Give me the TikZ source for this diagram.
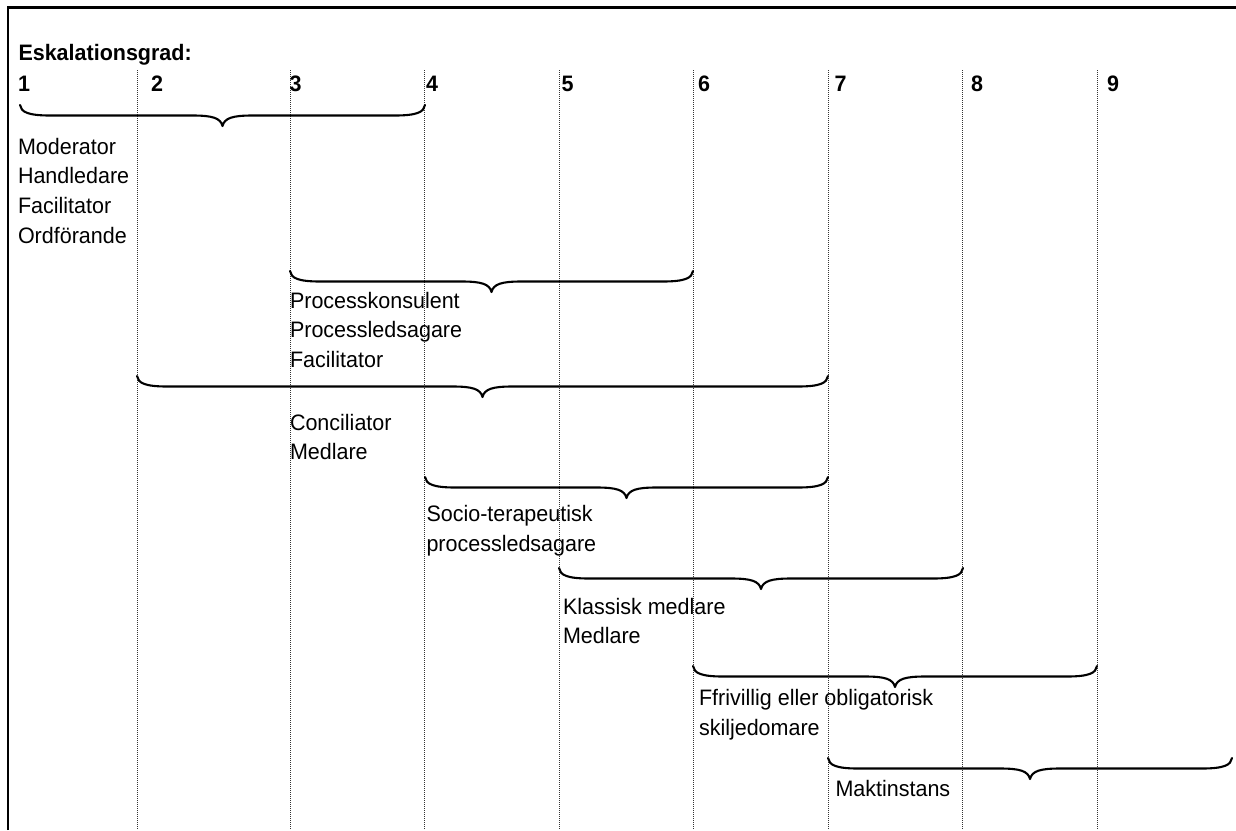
\documentclass[tikz,border=0pt]{standalone}
\usepackage{fontspec}
\setmainfont{Liberation Sans}
\tikzset{
  frameline/.style={line width=2.4pt, black},
  gridline/.style={line width=0.9pt, black!80, dash pattern=on 1pt off 1pt},
  brc/.style={line width=2.1pt, black, line cap=round, line join=round},
  lbl/.style={inner sep=0pt, outer sep=0pt, anchor=base west, font=\fontsize{21.5}{28.7}\selectfont},
  hdr/.style={lbl, font=\bfseries\fontsize{21.5}{28.7}\selectfont},
}
\newcommand\wordbrace[3]{%
  \pgfmathsetmacro\bw{#2-#1}\pgfmathsetmacro\bh{\bw/2}%
  \begin{scope}[shift={(#1,#3)}]
    \draw[brc] (0,0) .. controls (1,7) and (8,10.5) .. (30,10.5)
      -- (\bh-30,10.5) .. controls (\bh-10,10.5) and (\bh-2,13) .. (\bh,21)
      .. controls (\bh+2,13) and (\bh+10,10.5) .. (\bh+30,10.5)
      -- (\bw-30,10.5) .. controls (\bw-8,10.5) and (\bw-1,7) .. (\bw,0);
  \end{scope}}
\newcommand\grp[1]{\scalebox{1}[1.04]{\begin{tabular}[t]{@{}l@{}}#1\end{tabular}}}
\newcommand\one[1]{\scalebox{1}[1.04]{#1}}
\begin{document}
\begin{tikzpicture}[x=1pt,y=-1pt]
\useasboundingbox (0,0) rectangle (1236,830);
% frame
\draw[frameline] (8,830) -- (8,7.3) -- (1236,7.3);
% dotted grid lines
\foreach \gx in {137,290,424.5,559,693,828,962.5,1097}
  \draw[gridline] (\gx,70) -- (\gx,830);
% heading and numbers
\node[hdr] (head) at (18.5,60.7) {\one{Eskalationsgrad:}};
\node[hdr] (n1) at (18,91.7) {\one{1}};
\node[hdr] (n2) at (151,91.7) {\one{2}};
\node[hdr] (n3) at (289.5,91.7) {\one{3}};
\node[hdr] (n4) at (426,91.7) {\one{4}};
\node[hdr] (n5) at (561.5,91.7) {\one{5}};
\node[hdr] (n6) at (698,91.7) {\one{6}};
\node[hdr] (n7) at (834.5,91.7) {\one{7}};
\node[hdr] (n8) at (971,91.7) {\one{8}};
\node[hdr] (n9) at (1107,91.7) {\one{9}};
% braces
\wordbrace{20}{425}{105}
\wordbrace{290}{693}{271}
\wordbrace{137}{828}{376}
\wordbrace{425}{828}{477}
\wordbrace{559}{963}{568}
\wordbrace{693}{1097}{666}
\wordbrace{828}{1232}{758}
% labels
\node[lbl] (g1) at (18,154) {\grp{Moderator\\Handledare\\Facilitator\\Ordförande}};
\node[lbl] (g2) at (290,308) {\grp{Processkonsulent\\Processledsagare\\Facilitator}};
\node[lbl] (g3) at (290,430) {\grp{Conciliator\\Medlare}};
\node[lbl] (g4) at (426.5,521.7) {\grp{Socio-terapeutisk\\processledsagare}};
\node[lbl] (g5) at (563,614) {\grp{Klassisk medlare\\Medlare}};
\node[lbl] (g6) at (699,705.7) {\grp{Ffrivillig eller obligatorisk\\skiljedomare}};
\node[lbl] (g7) at (835.5,796.7) {\one{Maktinstans}};
\end{tikzpicture}
\end{document}
